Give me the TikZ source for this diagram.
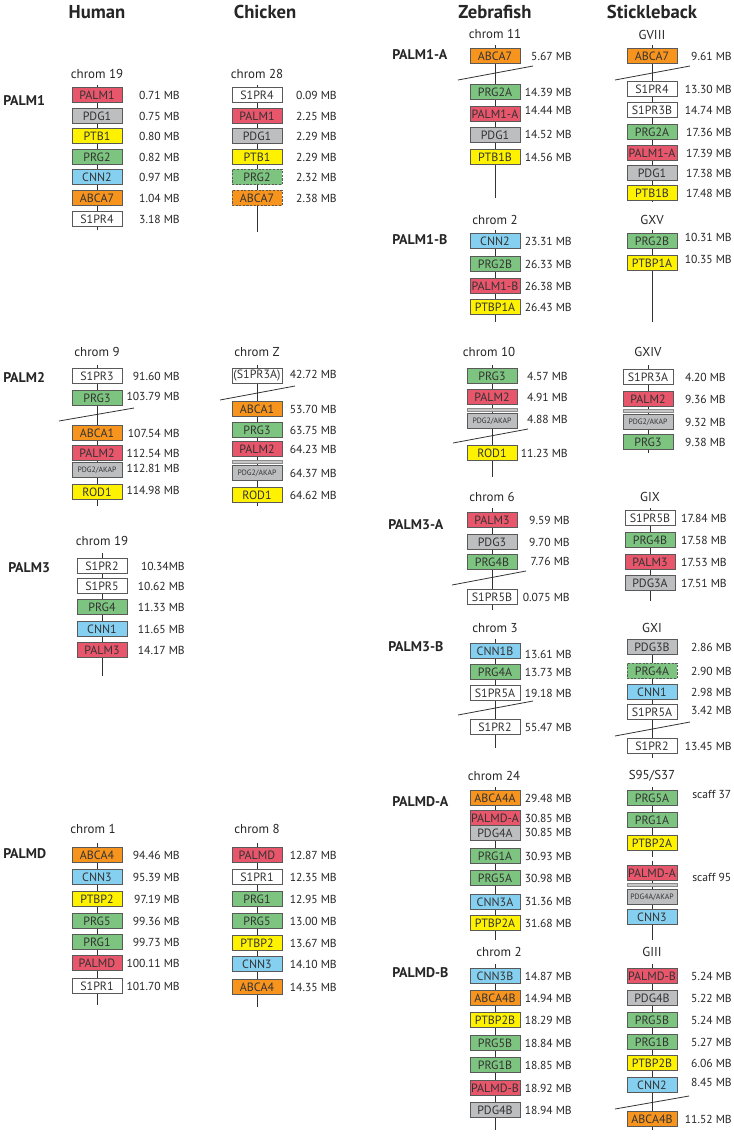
\documentclass[tikz,border=0pt]{standalone}
\usepackage{fontspec}
\setmainfont{PT Sans}
\usepackage{xcolor}
\usepackage{tikz}
\usetikzlibrary{positioning}

\definecolor{palmred}{HTML}{E8566B}
\definecolor{pdggray}{HTML}{BCBEC0}
\definecolor{ptbyellow}{HTML}{FFF200}
\definecolor{prggreen}{HTML}{7CC47F}
\definecolor{cnnblue}{HTML}{85D0F0}
\definecolor{abcaorange}{HTML}{F7941E}

\tikzset{
  gene/.style={draw=black!65, line width=0.6pt, rectangle, minimum width=37.5pt, minimum height=11.3pt, inner sep=0pt, font=\fontsize{9}{9}\selectfont, text=black!80},
  palm/.style={gene, fill=palmred},
  pdg/.style={gene, fill=pdggray},
  ptb/.style={gene, fill=ptbyellow},
  prg/.style={gene, fill=prggreen},
  cnn/.style={gene, fill=cnnblue},
  abca/.style={gene, fill=abcaorange},
  sipr/.style={gene, fill=white},
  akap/.style={pdg, font=\fontsize{5.8}{6}\selectfont},
  dsh/.style={dash pattern=on 1.6pt off 1.1pt},
  gapbar/.style={rectangle, minimum width=37.5pt, minimum height=2.4pt, inner sep=0pt, fill=black!22, draw=black!45, line width=0.3pt},
  mb/.style={anchor=east, inner sep=0pt, font=\fontsize{8.7}{9}\selectfont, text=black!85},
  chrname/.style={inner sep=0pt, font=\fontsize{9.7}{10}\selectfont, text=black!85},
  species/.style={inner sep=0pt, font=\bfseries\fontsize{14}{15}\selectfont, text=black!85},
  family/.style={anchor=west, inner sep=0pt, font=\bfseries\fontsize{10.5}{11}\selectfont, text=black!85},
  chrline/.style={draw=black!80, line width=0.6pt},
  cut/.style={draw=black!80, line width=0.6pt}
}

\begin{document}
\begin{tikzpicture}[x=0.75pt, y=-0.75pt]
        \fill[white] (0,0) rectangle (734,1136);
        \useasboundingbox (0,0) rectangle (734,1136);

        % Species
        \node[species] (human) at (97,12) {Human};
        \node[species] (chicken) at (265,12) {Chicken};
        \node[species] (zebrafish) at (495,12) {Zebrafish};
        \node[species] (stickleback) at (652,12) {Stickleback};

        % Families
        \node[family] (fpalm1) at (3,101) {PALM1};
        \node[family] (fpalm2) at (3,377) {PALM2};
        \node[family] (fpalm3) at (8,568) {PALM3};
        \node[family] (fpalmd) at (3,854) {PALMD};
        \node[family] (fpalm1a) at (392,55) {PALM1-A};
        \node[family] (fpalm1b) at (392,240) {PALM1-B};
        \node[family] (fpalm3a) at (388,525) {PALM3-A};
        \node[family] (fpalm3b) at (388,647) {PALM3-B};
        \node[family] (fpalmda) at (392,802) {PALMD-A};
        \node[family] (fpalmdb) at (392,973) {PALMD-B};

        % Human chrom 19 (PALM1)
        \node[chrname] (h1name) at (97,74) {chrom 19};
        \coordinate (h1top) at (97,85); \coordinate (h1bot) at (97,230);
        \draw[chrline] (h1top) -- (h1bot);
        \node[palm] (h1g1) at (97,95) {PALM1};  \node[mb] (h1v1) at (180,95) {0.71 MB};
        \node[pdg]  (h1g2) at (97,116) {PDG1};  \node[mb] (h1v2) at (180,116) {0.75 MB};
        \node[ptb]  (h1g3) at (97,136) {PTB1};  \node[mb] (h1v3) at (180,136) {0.80 MB};
        \node[prg]  (h1g4) at (97,157) {PRG2};  \node[mb] (h1v4) at (180,157) {0.82 MB};
        \node[cnn]  (h1g5) at (97,177) {CNN2};  \node[mb] (h1v5) at (180,177) {0.97 MB};
        \node[abca] (h1g6) at (97,198) {ABCA7}; \node[mb] (h1v6) at (180,198) {1.04 MB};
        \node[sipr] (h1g7) at (97,219) {S1PR4}; \node[mb] (h1v7) at (180,219) {3.18 MB};

        % Chicken chrom 28 (PALM1)
        \node[chrname] (c1name) at (257,74) {chrom 28};
        \coordinate (c1top) at (257,85); \coordinate (c1bot) at (257,232);
        \draw[chrline] (c1top) -- (c1bot);
        \node[sipr] (c1g1) at (257,95) {S1PR4};  \node[mb] (c1v1) at (337,95) {0.09 MB};
        \node[palm] (c1g2) at (257,116) {PALM1}; \node[mb] (c1v2) at (337,116) {2.25 MB};
        \node[pdg]  (c1g3) at (257,136) {PDG1};  \node[mb] (c1v3) at (337,136) {2.29 MB};
        \node[ptb]  (c1g4) at (257,157) {PTB1};  \node[mb] (c1v4) at (337,157) {2.29 MB};
        \node[prg, dsh]  (c1g5) at (257,177) {PRG2};  \node[mb] (c1v5) at (337,177) {2.32 MB};
        \node[abca, dsh] (c1g6) at (257,198) {ABCA7}; \node[mb] (c1v6) at (337,198) {2.38 MB};

        % Zebrafish chrom 11 (PALM1-A)
        \node[chrname] (z1name) at (495,34) {chrom 11};
        \coordinate (z1top) at (495,45); \coordinate (z1bot) at (495,198);
        \draw[chrline] (z1top) -- (z1bot);
        \draw[cut] (458,80) -- (533,66);
        \node[abca] (z1g1) at (495,56) {ABCA7};   \node[mb] (z1v1) at (572,56) {5.67 MB};
        \node[prg]  (z1g2) at (495,92) {PRG2A};   \node[mb] (z1v2) at (572,92) {14.39 MB};
        \node[palm] (z1g3) at (495,114) {PALM1-A}; \node[mb] (z1v3) at (572,110) {14.44 MB};
        \node[pdg]  (z1g4) at (495,135) {PDG1};   \node[mb] (z1v4) at (572,134) {14.52 MB};
        \node[ptb]  (z1g5) at (495,157) {PTB1B};  \node[mb] (z1v5) at (572,157) {14.56 MB};

        % Stickleback GVIII (PALM1-A)
        \node[chrname] (s1name) at (652,35) {GVIII};
        \coordinate (s1top) at (652,45); \coordinate (s1bot) at (652,202);
        \draw[chrline] (s1top) -- (s1bot);
        \draw[cut] (615,80) -- (690,66);
        \node[abca] (s1g1) at (652,56) {ABCA7};   \node[mb] (s1v1) at (732,56) {9.61 MB};
        \node[sipr] (s1g2) at (652,89) {S1PR4};   \node[mb] (s1v2) at (732,89) {13.30 MB};
        \node[sipr] (s1g3) at (652,110) {S1PR3B}; \node[mb] (s1v3) at (732,110) {14.74 MB};
        \node[prg]  (s1g4) at (652,132) {PRG2A};  \node[mb] (s1v4) at (732,132) {17.36 MB};
        \node[palm] (s1g5) at (652,153) {PALM1-A}; \node[mb] (s1v5) at (732,153) {17.39 MB};
        \node[pdg]  (s1g6) at (652,173) {PDG1};   \node[mb] (s1v6) at (732,173) {17.38 MB};
        \node[ptb]  (s1g7) at (652,193) {PTB1B};  \node[mb] (s1v7) at (732,193) {17.48 MB};

        % Zebrafish chrom 2 (PALM1-B)
        \node[chrname] (z2name) at (495,220) {chrom 2};
        \coordinate (z2top) at (495,230); \coordinate (z2bot) at (495,322);
        \draw[chrline] (z2top) -- (z2bot);
        \node[cnn]  (z2g1) at (495,241) {CNN2};    \node[mb] (z2v1) at (572,241) {23.31 MB};
        \node[prg]  (z2g2) at (495,264) {PRG2B};   \node[mb] (z2v2) at (572,264) {26.33 MB};
        \node[palm] (z2g3) at (495,286) {PALM1-B}; \node[mb] (z2v3) at (572,286) {26.38 MB};
        \node[ptb]  (z2g4) at (495,307) {PTBP1A};  \node[mb] (z2v4) at (572,307) {26.43 MB};

        % Stickleback GXV (PALM1-B)
        \node[chrname] (s2name) at (652,220) {GXV};
        \coordinate (s2top) at (652,230); \coordinate (s2bot) at (652,322);
        \draw[chrline] (s2top) -- (s2bot);
        \node[prg] (s2g1) at (652,241) {PRG2B};  \node[mb] (s2v1) at (732,237) {10.31 MB};
        \node[ptb] (s2g2) at (652,263) {PTBP1A}; \node[mb] (s2v2) at (732,259) {10.35 MB};

        % Human chrom 9 (PALM2)
        \node[chrname] (h2name) at (97,352) {chrom 9};
        \coordinate (h2top) at (97,365); \coordinate (h2bot) at (97,506);
        \draw[chrline] (h2top) -- (h2bot);
        \draw[cut] (59,421) -- (134,408);
        \node[sipr] (h2g1) at (97,376) {S1PR3};     \node[mb] (h2v1) at (180,376) {91.60 MB};
        \node[prg]  (h2g2) at (97,398) {PRG3};      \node[mb] (h2v2) at (180,396) {103.79 MB};
        \node[abca] (h2g3) at (97,433) {ABCA1};     \node[mb] (h2v3) at (180,433) {107.54 MB};
        \node[palm] (h2g4) at (97,453) {PALM2};     \node[mb] (h2v4) at (180,453) {112.54 MB};
        \node[akap] (h2g5) at (97,470) {PDG2/AKAP}; \node[mb] (h2v5) at (180,468) {112.81 MB};
        \node[ptb]  (h2g6) at (97,492) {ROD1};      \node[mb] (h2v6) at (180,490) {114.98 MB};

        % Chicken chrom Z (PALM2)
        \node[chrname] (c2name) at (257,352) {chrom Z};
        \coordinate (c2top) at (257,365); \coordinate (c2bot) at (257,506);
        \draw[chrline] (c2top) -- (c2bot);
        \draw[cut] (220,400) -- (295,386);
        \node[sipr] (c2g1) at (257,376) {(S1PR3A)};  \node[mb] (c2v1) at (337,374) {42.72 MB};
        \node[abca] (c2g2) at (257,409) {ABCA1};     \node[mb] (c2v2) at (337,409) {53.70 MB};
        \node[prg]  (c2g3) at (257,430) {PRG3};      \node[mb] (c2v3) at (337,430) {63.75 MB};
        \node[palm] (c2g4) at (257,449) {PALM2};     \node[mb] (c2v4) at (337,449) {64.23 MB};
        \node[gapbar] (c2gap) at (257,462) {};
        \node[akap] (c2g5) at (257,473) {PDG2/AKAP}; \node[mb] (c2v5) at (337,473) {64.37 MB};
        \node[ptb]  (c2g6) at (257,495) {ROD1};      \node[mb] (c2v6) at (337,495) {64.62 MB};

        % Zebrafish chrom 10 (PALM2)
        \node[chrname] (z3name) at (489,352) {chrom 10};
        \coordinate (z3top) at (492,365); \coordinate (z3bot) at (492,477);
        \draw[chrline] (z3top) -- (z3bot);
        \draw[cut] (453,443) -- (528,429);
        \node[prg]  (z3g1) at (492,376) {PRG3};      \node[mb] (z3v1) at (568,376) {4.57 MB};
        \node[palm] (z3g2) at (492,397) {PALM2};     \node[mb] (z3v2) at (568,397) {4.91 MB};
        \node[gapbar] (z3gap) at (492,410) {};
        \node[akap] (z3g3) at (492,421) {PDG2/AKAP}; \node[mb] (z3v3) at (568,419) {4.88 MB};
        \node[ptb]  (z3g4) at (492,453) {ROD1};      \node[mb] (z3v4) at (568,453) {11.23 MB};

        % Stickleback GXIV (PALM2)
        \node[chrname] (s3name) at (648,352) {GXIV};
        \coordinate (s3top) at (648,365); \coordinate (s3bot) at (648,453);
        \draw[chrline] (s3top) -- (s3bot);
        \node[sipr] (s3g1) at (648,377) {S1PR3A};    \node[mb] (s3v1) at (726,377) {4.20 MB};
        \node[palm] (s3g2) at (648,399) {PALM2};     \node[mb] (s3v2) at (726,399) {9.36 MB};
        \node[gapbar] (s3gap) at (648,411) {};
        \node[akap] (s3g3) at (648,422) {PDG2/AKAP}; \node[mb] (s3v3) at (726,422) {9.32 MB};
        \node[prg]  (s3g4) at (648,442) {PRG3};      \node[mb] (s3v4) at (726,442) {9.38 MB};

        % Human chrom 19 (PALM3)
        \node[chrname] (h3name) at (102,541) {chrom 19};
        \coordinate (h3top) at (102,553); \coordinate (h3bot) at (102,676);
        \draw[chrline] (h3top) -- (h3bot);
        \node[sipr] (h3g1) at (102,566) {S1PR2}; \node[mb] (h3v1) at (185,566) {10.34MB};
        \node[sipr] (h3g2) at (102,586) {S1PR5}; \node[mb] (h3v2) at (185,586) {10.62 MB};
        \node[prg]  (h3g3) at (102,607) {PRG4};  \node[mb] (h3v3) at (185,607) {11.33 MB};
        \node[cnn]  (h3g4) at (102,629) {CNN1};  \node[mb] (h3v4) at (185,629) {11.65 MB};
        \node[palm] (h3g5) at (102,650) {PALM3}; \node[mb] (h3v5) at (185,650) {14.17 MB};

        % Zebrafish chrom 6 (PALM3-A)
        \node[chrname] (z4name) at (492,497) {chrom 6};
        \coordinate (z4top) at (492,508); \coordinate (z4bot) at (492,610);
        \draw[chrline] (z4top) -- (z4bot);
        \draw[cut] (452,585) -- (526,571);
        \node[palm] (z4g1) at (492,520) {PALM3};  \node[mb] (z4v1) at (570,520) {9.59 MB};
        \node[pdg]  (z4g2) at (492,542) {PDG3};   \node[mb] (z4v2) at (570,542) {9.70 MB};
        \node[prg]  (z4g3) at (492,562) {PRG4B};  \node[mb] (z4v3) at (570,561) {7.76 MB};
        \node[sipr] (z4g4) at (492,597) {S1PR5B}; \node[mb] (z4v4) at (570,597) {0.075 MB};

        % Stickleback GIX (PALM3-A)
        \node[chrname] (s4name) at (650,497) {GIX};
        \coordinate (s4top) at (650,508); \coordinate (s4bot) at (650,601);
        \draw[chrline] (s4top) -- (s4bot);
        \node[sipr] (s4g1) at (650,518) {S1PR5B}; \node[mb] (s4v1) at (727,518) {17.84 MB};
        \node[prg]  (s4g2) at (650,540) {PRG4B};  \node[mb] (s4v2) at (727,540) {17.58 MB};
        \node[palm] (s4g3) at (650,562) {PALM3};  \node[mb] (s4v3) at (727,562) {17.53 MB};
        \node[pdg]  (s4g4) at (650,583) {PDG3A};  \node[mb] (s4v4) at (727,583) {17.51 MB};

        % Zebrafish chrom 3 (PALM3-B)
        \node[chrname] (z5name) at (495,628) {chrom 3};
        \coordinate (z5top) at (495,639); \coordinate (z5bot) at (495,748);
        \draw[chrline] (z5top) -- (z5bot);
        \draw[cut] (458,715) -- (533,701);
        \node[cnn]  (z5g1) at (495,651) {CNN1B};  \node[mb] (z5v1) at (572,654) {13.61 MB};
        \node[prg]  (z5g2) at (495,672) {PRG4A};  \node[mb] (z5v2) at (572,672) {13.73 MB};
        \node[sipr] (z5g3) at (495,693) {S1PR5A}; \node[mb] (z5v3) at (572,693) {19.18 MB};
        \node[sipr] (z5g4) at (495,727) {S1PR2};  \node[mb] (z5v4) at (572,727) {55.47 MB};

        % Stickleback GXI (PALM3-B)
        \node[chrname] (s5name) at (652,628) {GXI};
        \coordinate (s5top) at (652,639); \coordinate (s5bot) at (652,758);
        \draw[chrline] (s5top) -- (s5bot);
        \draw[cut] (615,736) -- (690,722);
        \node[pdg]  (s5g1) at (652,647) {PDG3B};     \node[mb] (s5v1) at (732,647) {2.86 MB};
        \node[prg, dsh] (s5g2) at (652,671) {PRG4A}; \node[mb] (s5v2) at (732,671) {2.90 MB};
        \node[cnn]  (s5g3) at (652,692) {CNN1};      \node[mb] (s5v3) at (732,692) {2.98 MB};
        \node[sipr] (s5g4) at (652,712) {S1PR5A};    \node[mb] (s5v4) at (732,710) {3.42 MB};
        \node[sipr] (s5g5) at (652,746) {S1PR2};     \node[mb] (s5v5) at (732,746) {13.45 MB};

        % Human chrom 1 (PALMD)
        \node[chrname] (h4name) at (93,829) {chrom 1};
        \coordinate (h4top) at (97,843); \coordinate (h4bot) at (97,1005);
        \draw[chrline] (h4top) -- (h4bot);
        \node[abca] (h4g1) at (97,855) {ABCA4}; \node[mb] (h4v1) at (180,855) {94.46 MB};
        \node[cnn]  (h4g2) at (97,877) {CNN3};  \node[mb] (h4v2) at (180,877) {95.39 MB};
        \node[ptb]  (h4g3) at (97,899) {PTBP2}; \node[mb] (h4v3) at (180,899) {97.19 MB};
        \node[prg]  (h4g4) at (97,921) {PRG5};  \node[mb] (h4v4) at (180,921) {99.36 MB};
        \node[prg]  (h4g5) at (97,942) {PRG1};  \node[mb] (h4v5) at (180,942) {99.73 MB};
        \node[palm] (h4g6) at (97,963) {PALMD}; \node[mb] (h4v6) at (180,963) {100.11 MB};
        \node[sipr] (h4g7) at (97,986) {S1PR1}; \node[mb] (h4v7) at (180,986) {101.70 MB};

        % Chicken chrom 8 (PALMD)
        \node[chrname] (c4name) at (257,829) {chrom 8};
        \coordinate (c4top) at (257,843); \coordinate (c4bot) at (257,1007);
        \draw[chrline] (c4top) -- (c4bot);
        \node[palm] (c4g1) at (257,855) {PALMD}; \node[mb] (c4v1) at (337,855) {12.87 MB};
        \node[sipr] (c4g2) at (257,877) {S1PR1}; \node[mb] (c4v2) at (337,877) {12.35 MB};
        \node[prg]  (c4g3) at (257,899) {PRG1};  \node[mb] (c4v3) at (337,899) {12.95 MB};
        \node[prg]  (c4g4) at (257,921) {PRG5};  \node[mb] (c4v4) at (337,921) {13.00 MB};
        \node[ptb]  (c4g5) at (257,943) {PTBP2}; \node[mb] (c4v5) at (337,943) {13.67 MB};
        \node[cnn]  (c4g6) at (257,964) {CNN3};  \node[mb] (c4v6) at (337,964) {14.10 MB};
        \node[abca] (c4g7) at (257,987) {ABCA4}; \node[mb] (c4v7) at (337,987) {14.35 MB};

        % Zebrafish chrom 24 (PALMD-A)
        \node[chrname] (z6name) at (494,776) {chrom 24};
        \coordinate (z6top) at (495,787); \coordinate (z6bot) at (495,940);
        \draw[chrline] (z6top) -- (z6bot);
        \node[abca] (z6g1) at (495,798) {ABCA4A};  \node[mb] (z6v1) at (572,798) {29.48 MB};
        \node[palm] (z6g2) at (495,818) {PALMD-A}; \node[mb] (z6v2) at (572,818) {30.85 MB};
        \node[pdg]  (z6g3) at (495,833) {PDG4A};   \node[mb] (z6v3) at (572,832) {30.85 MB};
        \node[prg]  (z6g4) at (495,856) {PRG1A};   \node[mb] (z6v4) at (572,856) {30.93 MB};
        \node[prg]  (z6g5) at (495,878) {PRG5A};   \node[mb] (z6v5) at (572,878) {30.98 MB};
        \node[cnn]  (z6g6) at (495,902) {CNN3A};   \node[mb] (z6v6) at (572,901) {31.36 MB};
        \node[ptb]  (z6g7) at (495,923) {PTBP2A};  \node[mb] (z6v7) at (572,923) {31.68 MB};

        % Stickleback S95/S37 (PALMD-A)
        \node[chrname] (s6name) at (652,776) {S95/S37};
        \coordinate (s6top) at (652,787); \coordinate (s6mida) at (652,857);
        \coordinate (s6midb) at (652,861); \coordinate (s6bot) at (652,940);
        \draw[chrline] (s6top) -- (s6mida);
        \draw[chrline] (s6midb) -- (s6bot);
        \node[prg]  (s6g1) at (652,798) {PRG5A};   \node[mb, anchor=west] (s6v1) at (692,794) {scaff 37};
        \node[prg]  (s6g2) at (652,820) {PRG1A};
        \node[ptb]  (s6g3) at (652,843) {PTBP2A};
        \node[palm] (s6g4) at (652,873) {PALMD-A}; \node[mb, anchor=west] (s6v4) at (692,877) {scaff 95};
        \node[gapbar] (s6gap) at (652,885) {};
        \node[akap] (s6g5) at (652,897) {PDG4A/AKAP};
        \node[cnn]  (s6g6) at (652,917) {CNN3};

        % Zebrafish chrom 2 (PALMD-B)
        \node[chrname] (z7name) at (499,952) {chrom 2};
        \coordinate (z7top) at (495,964); \coordinate (z7bot) at (495,1130);
        \draw[chrline] (z7top) -- (z7bot);
        \node[cnn]  (z7g1) at (495,976) {CNN3B};    \node[mb] (z7v1) at (572,976) {14.87 MB};
        \node[abca] (z7g2) at (495,998) {ABCA4B};   \node[mb] (z7v2) at (572,998) {14.94 MB};
        \node[ptb]  (z7g3) at (495,1020) {PTBP2B};  \node[mb] (z7v3) at (572,1020) {18.29 MB};
        \node[prg]  (z7g4) at (495,1043) {PRG5B};   \node[mb] (z7v4) at (572,1043) {18.84 MB};
        \node[prg]  (z7g5) at (495,1065) {PRG1B};   \node[mb] (z7v5) at (572,1065) {18.85 MB};
        \node[palm] (z7g6) at (495,1088) {PALMD-B}; \node[mb] (z7v6) at (572,1088) {18.92 MB};
        \node[pdg]  (z7g7) at (495,1110) {PDG4B};   \node[mb] (z7v7) at (572,1110) {18.94 MB};

        % Stickleback GIII (PALMD-B)
        \node[chrname] (s7name) at (652,952) {GIII};
        \coordinate (s7top) at (652,964); \coordinate (s7bot) at (652,1130);
        \draw[chrline] (s7top) -- (s7bot);
        \draw[cut] (615,1109) -- (689,1096);
        \node[palm] (s7g1) at (652,976) {PALMD-B};  \node[mb] (s7v1) at (732,976) {5.24 MB};
        \node[pdg]  (s7g2) at (652,998) {PDG4B};    \node[mb] (s7v2) at (732,998) {5.22 MB};
        \node[prg]  (s7g3) at (652,1020) {PRG5B};   \node[mb] (s7v3) at (732,1020) {5.24 MB};
        \node[prg]  (s7g4) at (652,1042) {PRG1B};   \node[mb] (s7v4) at (732,1042) {5.27 MB};
        \node[ptb]  (s7g5) at (652,1063) {PTBP2B};  \node[mb] (s7v5) at (732,1063) {6.06 MB};
        \node[cnn]  (s7g6) at (652,1085) {CNN2};    \node[mb] (s7v6) at (732,1082) {8.45 MB};
        \node[abca] (s7g7) at (652,1119) {ABCA4B};  \node[mb] (s7v7) at (732,1119) {11.52 MB};
\end{tikzpicture}
\end{document}
